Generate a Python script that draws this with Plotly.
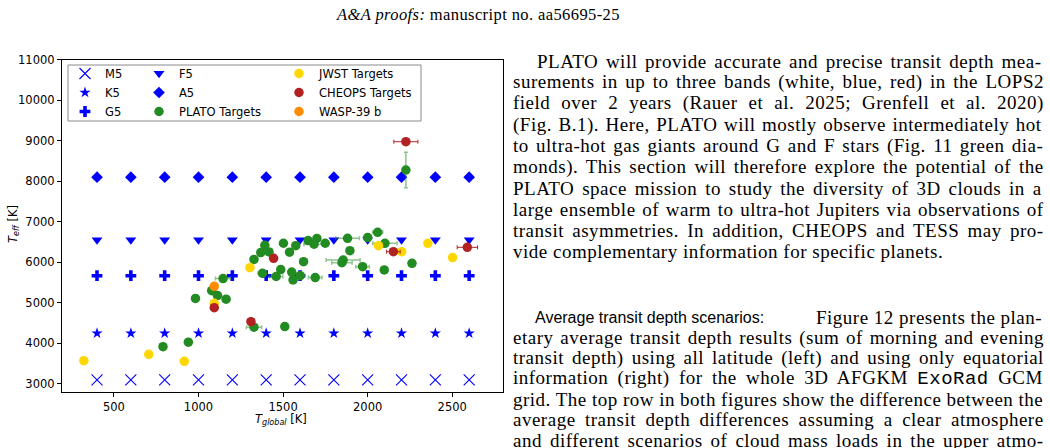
import plotly.graph_objects as go

W, H = 1050, 448

# ---------------- chart data ----------------
grid_tglobal = [400, 600, 800, 1000, 1200, 1400, 1600, 1800, 2000, 2200, 2400, 2600]
star_names = ["M5", "K5", "G5", "F5", "A5"]
star_teff = [3100, 4250, 5670, 6550, 8100]

plato_tglobal = [790, 940, 982, 1078, 1112, 1163, 1145, 1328, 1510, 1328, 1368, 1392, 1417,
                 1378, 1459, 1486, 1502, 1538, 1551, 1575, 1559, 1601, 1621, 1648, 1683, 1690,
                 1700, 1749, 1881, 1895, 1855, 1848, 1970, 2000, 2059, 2102, 2098, 2262, 2226]
plato_teff = [3920, 4030, 5110, 5300, 5180, 5090, 5600, 4400, 4415, 6070, 6240, 6420, 6255,
              5730, 5650, 5820, 6470, 6250, 5760, 6410, 5565, 5670, 6015, 6535, 6445, 5625,
              6590, 6470, 6592, 6287, 6057, 5990, 5892, 6610, 6740, 6469, 5811, 5975, 8276]
plato_tglobal_err = [0, 0, 0, 0, 0, 0, 45, 45, 0, 20, 0, 0, 0,
                     25, 40, 0, 0, 0, 0, 0, 0, 0, 0, 0, 60, 40,
                     0, 0, 70, 0, 100, 60, 40, 0, 30, 72, 0, 0, 0]
plato_teff_err = [0, 0, 0, 0, 0, 0, 90, 0, 0, 0, 0, 0, 0,
                  0, 0, 0, 0, 0, 0, 0, 0, 0, 0, 0, 0, 0,
                  0, 0, 0, 0, 0, 0, 0, 0, 0, 0, 0, 0, 440]

jwst_tglobal = [322, 706, 916, 1093, 1304, 2064, 2201, 2356, 2502]
jwst_teff = [3574, 3732, 3560, 4989, 5867, 6409, 6261, 6468, 6118]

cheops_tglobal = [1093, 1310, 1444, 2152, 2589, 2226]
cheops_teff = [4881, 4536, 6099, 6261, 6370, 8973]
cheops_tglobal_err = [0, 0, 0, 40, 60, 71]

wasp39_tglobal = [1093]
wasp39_teff = [5408]

x_ticks = [500, 1000, 1500, 2000, 2500]
y_ticks = [3000, 4000, 5000, 6000, 7000, 8000, 9000, 10000, 11000]

# ---------------- page text ----------------
header_italic = "A&amp;A proofs:"
header_rest = " manuscript no. aa56695-25"

para1_lines = [
    "PLATO will provide accurate and precise transit depth mea-",
    "surements in up to three bands (white, blue, red) in the LOPS2",
    "field over 2 years (Rauer et al. 2025; Grenfell et al. 2020)",
    "(Fig. B.1). Here, PLATO will mostly observe intermediately hot",
    "to ultra-hot gas giants around G and F stars (Fig. 11 green dia-",
    "monds). This section will therefore explore the potential of the",
    "PLATO space mission to study the diversity of 3D clouds in a",
    "large ensemble of warm to ultra-hot Jupiters via observations of",
    "transit asymmetries. In addition, CHEOPS and TESS may pro-",
    "vide complementary information for specific planets.",
]
para2_heading = "Average transit depth scenarios:"
para2_first_rest = "Figure 12 presents the plan-"
para2_lines = [
    [("etary average transit depth results (sum of morning and evening", "serif")],
    [("transit depth) using all latitude (left) and using only equatorial", "serif")],
    [("information (right) for the whole 3D AFGKM ", "serif"), ("ExoRad", "mono"), (" GCM", "serif")],
    [("grid. The top row in both figures show the difference between the", "serif")],
    [("average transit depth differences assuming a clear atmosphere", "serif")],
    [("and different scenarios of cloud mass loads in the upper atmo-", "serif")],
]

# ---------------- figure ----------------
fig = go.Figure()

blue = "#0000ff"
grid_styles = {
    "M5": dict(symbol="x-thin", size=11, color=blue, line=dict(color=blue, width=1.1)),
    "K5": dict(symbol="star", size=8.5, color=blue, line=dict(width=0)),
    "G5": dict(symbol="cross", size=9, color=blue, line=dict(width=0)),
    "F5": dict(symbol="triangle-down", size=9.5, color=blue, line=dict(width=0)),
    "A5": dict(symbol="diamond", size=9, color=blue, line=dict(width=0)),
}
legend_of = {"M5": "legend", "K5": "legend", "G5": "legend", "F5": "legend2", "A5": "legend2"}

for name, teff in zip(star_names, star_teff):
    fig.add_trace(go.Scatter(
        x=grid_tglobal, y=[teff] * len(grid_tglobal), mode="markers", name=name,
        marker=grid_styles[name], legend=legend_of[name]))

fig.add_trace(go.Scatter(
    x=plato_tglobal, y=plato_teff, mode="markers", name="PLATO Targets", legend="legend2",
    marker=dict(symbol="circle", size=9.5, color="#228b22", line=dict(width=0)),
    error_x=dict(type="data", array=plato_tglobal_err, color="rgba(34,139,34,0.5)", thickness=1.5, width=2),
    error_y=dict(type="data", array=plato_teff_err, color="rgba(34,139,34,0.5)", thickness=1.5, width=2)))

fig.add_trace(go.Scatter(
    x=jwst_tglobal, y=jwst_teff, mode="markers", name="JWST Targets", legend="legend3",
    marker=dict(symbol="circle", size=9.5, color="#ffd700", line=dict(width=0))))

fig.add_trace(go.Scatter(
    x=cheops_tglobal, y=cheops_teff, mode="markers", name="CHEOPS Targets", legend="legend3",
    marker=dict(symbol="circle", size=9.5, color="#b22222", line=dict(width=0)),
    error_x=dict(type="data", array=cheops_tglobal_err, color="#b22222", thickness=1, width=2)))

fig.add_trace(go.Scatter(
    x=wasp39_tglobal, y=wasp39_teff, mode="markers", name="WASP-39 b", legend="legend3",
    marker=dict(symbol="circle", size=9.5, color="#ff8c00", line=dict(width=0))))


def px(x):
    return x / W


def py(y):
    return 1 - y / H


leg_common = dict(xanchor="left", yanchor="top", bgcolor="rgba(0,0,0,0)", borderwidth=0,
                  font=dict(family="DejaVu Sans", size=11.5, color="black"), itemsizing="trace")
axis_common = dict(ticks="outside", ticklen=4, tickwidth=1, tickcolor="black",
                   showline=True, mirror=True, linecolor="black", linewidth=1.2,
                   showgrid=False, zeroline=False, automargin=False, tickformat="d",
                   tickfont=dict(family="DejaVu Sans", size=11.5, color="black"))

fig.update_layout(
    width=W, height=H,
    margin=dict(l=0, r=0, t=0, b=0),
    paper_bgcolor="white", plot_bgcolor="white",
    font=dict(family="DejaVu Sans", size=11.5, color="black"),
    legend=dict(x=px(65), y=py(59), **leg_common),
    legend2=dict(x=px(139), y=py(59), **leg_common),
    legend3=dict(x=px(279), y=py(59), **leg_common),
    xaxis=dict(domain=[px(62), px(503)], range=[193, 2800], tickvals=x_ticks, **axis_common),
    yaxis=dict(domain=[py(391.7), py(59.5)], range=[2810, 11000], tickvals=y_ticks, **axis_common),
)

# legend frame
fig.add_shape(type="rect", xref="paper", yref="paper",
              x0=px(68), x1=px(421), y0=py(121), y1=py(65),
              line=dict(color="#8a8a8a", width=1), fillcolor="white", layer="below")

# axis titles
fig.add_annotation(x=px(281), y=py(419), xref="paper", yref="paper", showarrow=False,
                   xanchor="center", yanchor="middle",
                   text="<i>T</i><sub><i>global</i></sub> [K]",
                   font=dict(family="DejaVu Sans", size=11.5, color="black"))
fig.add_annotation(x=px(13), y=py(224), xref="paper", yref="paper", showarrow=False,
                   xanchor="center", yanchor="middle", textangle=-90,
                   text="<i>T</i><sub><i>eff</i></sub> [K]",
                   font=dict(family="DejaVu Sans", size=11.5, color="black"))

# ---------------- page text layout ----------------
TIMES = {' ': 250, '!': 333, '"': 408, '#': 500, '$': 500, '%': 833, '&': 778, "'": 333, '(': 333,
         ')': 333, '*': 500, '+': 564, ',': 250, '-': 333, '.': 250, '/': 278, ':': 278, ';': 278,
         '?': 444, 'A': 722, 'B': 667, 'C': 667, 'D': 722, 'E': 611, 'F': 556, 'G': 722, 'H': 722,
         'I': 333, 'J': 389, 'K': 722, 'L': 611, 'M': 889, 'N': 722, 'O': 722, 'P': 556, 'Q': 722,
         'R': 667, 'S': 556, 'T': 611, 'U': 722, 'V': 722, 'W': 944, 'X': 722, 'Y': 722, 'Z': 611,
         '[': 333, ']': 333, 'a': 444, 'b': 500, 'c': 444, 'd': 500, 'e': 444, 'f': 333, 'g': 500,
         'h': 500, 'i': 278, 'j': 278, 'k': 500, 'l': 278, 'm': 778, 'n': 500, 'o': 500, 'p': 500,
         'q': 500, 'r': 333, 's': 389, 't': 278, 'u': 500, 'v': 500, 'w': 722, 'x': 500, 'y': 500,
         'z': 444}
FS = 19
LS = 0.5
COL_L, COL_R, INDENT = 512, 1043, 536
FAM = {"serif": "Liberation Serif", "mono": "Liberation Mono"}


def seg_width(t, kind):
    if kind == "mono":
        return 0.6 * FS * len(t) + LS * len(t)
    return sum(TIMES.get(c, 500) for c in t) / 1000 * FS + LS * len(t)


def add_line(segs, left, yc, right=None):
    nat = sum(seg_width(t, k) for t, k in segs)
    nsp = sum(t.count(" ") for t, k in segs)
    ws = (right - left - nat) / nsp if (right is not None and nsp) else 0
    html = "".join(
        f'<span style="font-family:{FAM[k]};letter-spacing:{LS}px;word-spacing:{ws:.2f}px">{t}</span>'
        for t, k in segs)
    fig.add_annotation(x=px(left), y=py(yc), xref="paper", yref="paper", xanchor="left",
                       yanchor="middle", showarrow=False, borderpad=0, text=html,
                       font=dict(family="Liberation Serif", size=FS, color="black"))


# header
fig.add_annotation(x=px(478), y=py(14), xref="paper", yref="paper", xanchor="center",
                   yanchor="middle", showarrow=False, borderpad=0,
                   text=f'<span style="letter-spacing:0.4px"><i>{header_italic}</i>{header_rest}</span>',
                   font=dict(family="Liberation Serif", size=16.5, color="black"))

# paragraph 1
for i, line in enumerate(para1_lines):
    left = INDENT if i == 0 else COL_L
    last = i == len(para1_lines) - 1
    add_line([(line, "serif")], left, 61 + 21.2 * i, None if last else COL_R)

# paragraph 2
fig.add_annotation(x=px(INDENT - 2), y=py(317), xref="paper", yref="paper", xanchor="left",
                   yanchor="middle", showarrow=False, borderpad=0, text=para2_heading,
                   font=dict(family="Liberation Sans", size=16, color="black"))
fig.add_annotation(x=px(COL_R), y=py(317), xref="paper", yref="paper", xanchor="right",
                   yanchor="middle", showarrow=False, borderpad=0,
                   text=f'<span style="letter-spacing:{LS}px">{para2_first_rest}</span>',
                   font=dict(family="Liberation Serif", size=FS, color="black"))
for i, segs in enumerate(para2_lines):
    add_line(segs, COL_L, 317 + 20.5 * (i + 1), COL_R)

fig.write_html("out.html")
